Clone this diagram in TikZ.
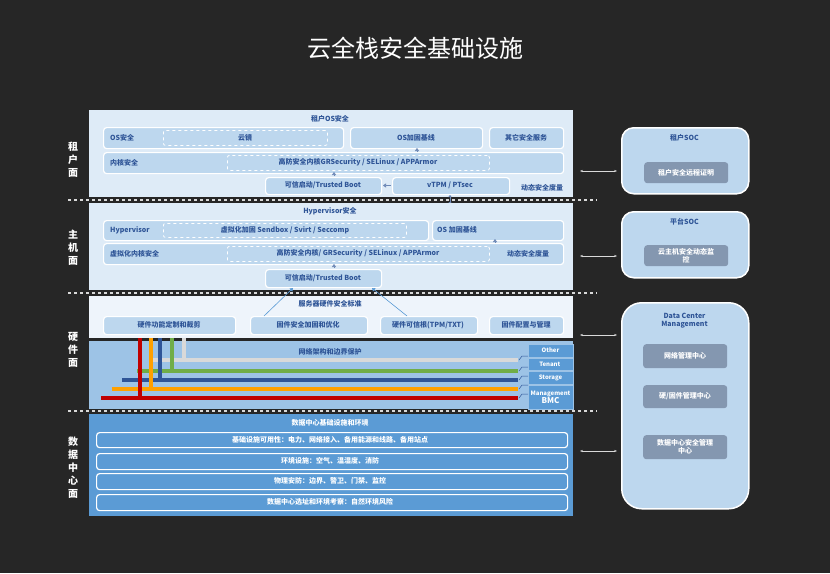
\documentclass[tikz,border=0pt]{standalone}
\usepackage{fontspec}
\setmainfont{Noto Sans CJK SC}
\usetikzlibrary{arrows.meta}
\definecolor{bg}{HTML}{262626}
\definecolor{pane}{HTML}{DEEBF7}
\definecolor{paneb}{HTML}{EEF4FB}
\definecolor{boxc}{HTML}{BDD7EE}
\definecolor{net}{HTML}{9DC3E6}
\definecolor{dc}{HTML}{5B9BD5}
\definecolor{inner}{HTML}{8497B0}
\definecolor{txt}{HTML}{2F5597}
\definecolor{gline}{HTML}{D9D9D9}
\definecolor{grn}{HTML}{70AD47}
\definecolor{blu}{HTML}{2F5597}
\definecolor{org}{HTML}{FFA000}
\definecolor{rd}{HTML}{C00000}
\newcommand\mkbox[6]{\node[#1,anchor=north west,inner sep=0pt,minimum width={(#5)-(#3)},minimum height={(#6)-(#4)}] (#2) at (#3,#4) {};}
\tikzset{
 panel/.style={fill=pane,draw=none},
 sbox/.style={fill=boxc,draw=white,line width=1.2pt,rounded corners=3pt},
 dbox/.style={draw=white,dashed,line width=0.8pt,rounded corners=2pt},
 rbox/.style={fill=boxc,draw=white,line width=1.5pt,rounded corners=12pt},
 ibox/.style={fill=inner,draw=none,rounded corners=3pt},
 wbox/.style={fill=dc,draw=white,line width=1.2pt,rounded corners=3pt},
 lbl/.style={font=\bfseries\fontsize{7}{8}\selectfont,text=txt,inner sep=0pt},
 wl/.style={font=\bfseries\fontsize{7}{8}\selectfont,text=white,inner sep=0pt,align=center},
 side/.style={font=\bfseries\fontsize{10}{13}\selectfont,text=white,align=center,inner sep=0pt},
 sep/.style={draw=gline,dashed,line width=1.2pt},
 dbl/.style={{Stealth[length=3pt]}-{Stealth[length=3pt]},draw=gline,line width=0.8pt},
 sar/.style={-{Triangle[length=3pt,width=4pt]},draw=txt!70,line width=0.6pt},
 cab/.style={line width=3.5pt},
}
\begin{document}
\begin{tikzpicture}[x=1pt,y=-1pt]
\fill[bg] (0,0) rectangle (830,573);
\useasboundingbox (0,0) rectangle (830,573);
\node[font=\fontsize{24}{28}\selectfont,text=white] (title) at (415,48) {云全栈安全基础设施};
% side labels
\node[side] (l1) at (73,160) {租\\户\\面};
\node[side] (l2) at (73,248) {主\\机\\面};
\node[side] (l3) at (73,350) {硬\\件\\面};
\node[side] (l4) at (73,468) {数\\据\\中\\心\\面};
% separators
\draw[sep] (68,200) -- (597,200);
\draw[sep] (68,293) -- (597,293);
\draw[sep] (68,411) -- (597,411);
% tenant panel
\mkbox{panel}{tp}{89}{110}{573}{197}
\node[lbl] at (330,119) {租户OS安全};
\mkbox{sbox}{osa}{103}{127}{343}{148}
\node[lbl,anchor=west] at (110,137.5) {OS安全};
\mkbox{dbox}{yj}{163}{130}{327}{145}
\node[lbl] at (245,137.5) {云镜};
\mkbox{sbox}{osb}{350}{127}{482}{148}
\node[lbl] at (416,137.5) {OS加固基线};
\mkbox{sbox}{oth}{489}{127}{563}{148}
\node[lbl] at (526,137.5) {其它安全服务};
\mkbox{sbox}{kern}{103}{152}{563}{173}
\node[lbl,anchor=west] at (110,162.5) {内核安全};
\mkbox{dbox}{kd}{227}{155}{489}{170}
\node[lbl] at (358,162.5) {高防安全内核GRSecurity / SELinux / APPArmor};
\mkbox{sbox}{tb1}{265}{177}{381}{194}
\node[lbl] at (323,185.5) {可信启动/Trusted Boot};
\mkbox{sbox}{vt}{392}{177}{509}{194}
\node[lbl] at (450,185.5) {vTPM / PTsec};
\node[lbl] at (542,188) {动态安全度量};
\draw[sar] (334,176) -- (334,172);
\draw[sar] (417,152) -- (417,148);
\draw[sar] (391,185.5) -- (383,185.5);
\draw[sar,{Triangle[length=2pt,width=3pt]}-{Triangle[length=2pt,width=3pt]}] (450,195) -- (450,204);
% hypervisor panel
\mkbox{panel}{hp}{89}{203}{573}{290}
\node[lbl] at (330,211) {Hypervisor安全};
\mkbox{sbox}{hv}{103}{220}{428}{240}
\node[lbl,anchor=west] at (110,230) {Hypervisor};
\mkbox{dbox}{hvd}{163}{223}{406}{237}
\node[lbl] at (285,230) {虚拟化加固 Sendbox / Svirt / Seccomp};
\mkbox{sbox}{hob}{432}{220}{563}{240}
\node[lbl,anchor=west] at (437,230) {OS 加固基线};
\mkbox{sbox}{vk}{103}{243}{563}{264}
\node[lbl,anchor=west] at (110,253.5) {虚拟化内核安全};
\mkbox{dbox}{vkd}{227}{246}{489}{261}
\node[lbl] at (358,253.5) {高防安全内核/ GRSecurity / SELinux / APPArmor};
\node[lbl] at (528,254) {动态安全度量};
\mkbox{sbox}{tb2}{265}{269}{381}{287}
\node[lbl] at (323,278) {可信启动/Trusted Boot};
\draw[sar] (334,268) -- (334,264);
\draw[sar] (495,243) -- (495,239);
% hardware top
\mkbox{panel,fill=paneb}{hw}{89}{296}{573}{338}
\node[lbl] at (330,304) {服务器硬件安全标准};
\mkbox{sbox}{h1}{103}{316}{235}{334}
\node[lbl] at (169,325) {硬件功能定制和裁剪};
\mkbox{sbox}{h2}{250}{316}{367}{334}
\node[lbl] at (308,325) {固件安全加固和优化};
\mkbox{sbox}{h3}{380}{316}{477}{334}
\node[lbl] at (428,325) {硬件可信根(TPM/TXT)};
\mkbox{sbox}{h4}{489}{316}{563}{334}
\node[lbl] at (526,325) {固件配置与管理};
\draw[sar,draw=dc] (264,316) -- (293,288);
\draw[sar,draw=dc] (407,316) -- (372,288);
% network panel
\mkbox{panel,fill=net}{np}{89}{341}{573}{409}
\node[lbl] at (330,352) {网络架构和边界保护};
\foreach \n/\a/\b/\t in {o/344/357/Other,t/358/370/Tenant / VM,s/371/384/Storage}{
 \mkbox{fill=dc,draw=net,line width=0.6pt}{\n}{528}{\a}{573}{\b}
 \node[wl,font=\bfseries\fontsize{6}{7}\selectfont] at (550.5,{(\a+\b)/2}) {\t};}
\mkbox{fill=dc,draw=net,line width=0.6pt}{m}{528}{385}{573}{409}
\node[wl,font=\bfseries\fontsize{6}{8}\selectfont] at (550.5,397) {Management\\{\fontsize{8}{9}\selectfont BMC}};
\foreach \y/\c in {360/gline,371/grn,380/blu,389/org,398/rd}{
 \draw[draw=txt,line width=0.5pt] (519,\y) -- (522,\y-4) -- (528,\y-4);}
\draw[cab,gline] (152,360) -- (518,360);
\draw[cab,grn] (137,371) -- (518,371);
\draw[cab,blu] (122,380) -- (518,380);
\draw[cab,org] (112,389) -- (518,389);
\draw[cab,rd] (101,398) -- (518,398);
\draw[cab,rd] (140,338) -- (140,398);
\draw[cab,org] (151,338) -- (151,389);
\draw[cab,blu] (160,338) -- (160,380);
\draw[cab,grn] (172,338) -- (172,371);
\draw[cab,gline] (184,338) -- (184,360);
% datacenter panel
\mkbox{fill=dc}{dcp}{89}{414}{573}{516}
\node[wl] at (330,423) {数据中心基础设施和环境};
\mkbox{wbox}{d1}{96}{432}{567}{447}
\node[wl] at (330,439.5) {基础设施可用性：电力、网络接入、备用能源和线路、备用站点};
\mkbox{wbox}{d2}{96}{453}{567}{469}
\node[wl] at (330,461) {环境设施：空气、温湿度、消防};
\mkbox{wbox}{d3}{96}{473}{567}{489}
\node[wl] at (330,481) {物理安防：边界、警卫、门禁、监控};
\mkbox{wbox}{d4}{96}{494}{567}{510}
\node[wl] at (330,502) {数据中心选址和环境考察：自然环境风险};
% right side
\mkbox{rbox}{soc1}{621}{127}{748}{193}
\node[lbl] at (684.5,138) {租户SOC};
\mkbox{ibox}{s1}{644}{162}{728}{183}
\node[wl] at (686,172.5) {租户安全远程证明};
\mkbox{rbox}{soc2}{621}{211}{748}{277}
\node[lbl] at (684.5,222) {平台SOC};
\mkbox{ibox}{s2}{644}{245}{728}{266}
\node[wl] at (686,255.5) {云主机安全动态监\\控};
\mkbox{rbox,rounded corners=20pt}{dcm}{621}{302}{748}{508}
\node[lbl,align=center] at (684.5,321) {Data Center\\Management};
\mkbox{ibox}{m1}{643}{344}{727}{368}
\node[wl] at (685,356) {网络管理中心};
\mkbox{ibox}{m2}{643}{385}{727}{408}
\node[wl] at (685,396.5) {硬/固件管理中心};
\mkbox{ibox}{m3}{643}{435}{727}{459}
\node[wl] at (685,447) {数据中心安全管理\\中心};
\coordinate (a1) at (580,171); \coordinate (b1) at (617,171);
\coordinate (a2) at (580,256); \coordinate (b2) at (617,256);
\coordinate (a3) at (580,335); \coordinate (b3) at (617,335);
\coordinate (a4) at (580,451); \coordinate (b4) at (617,451);
\foreach \i in {1,2,3,4} \draw[dbl] (a\i) -- (b\i);
\end{tikzpicture}
\end{document}
